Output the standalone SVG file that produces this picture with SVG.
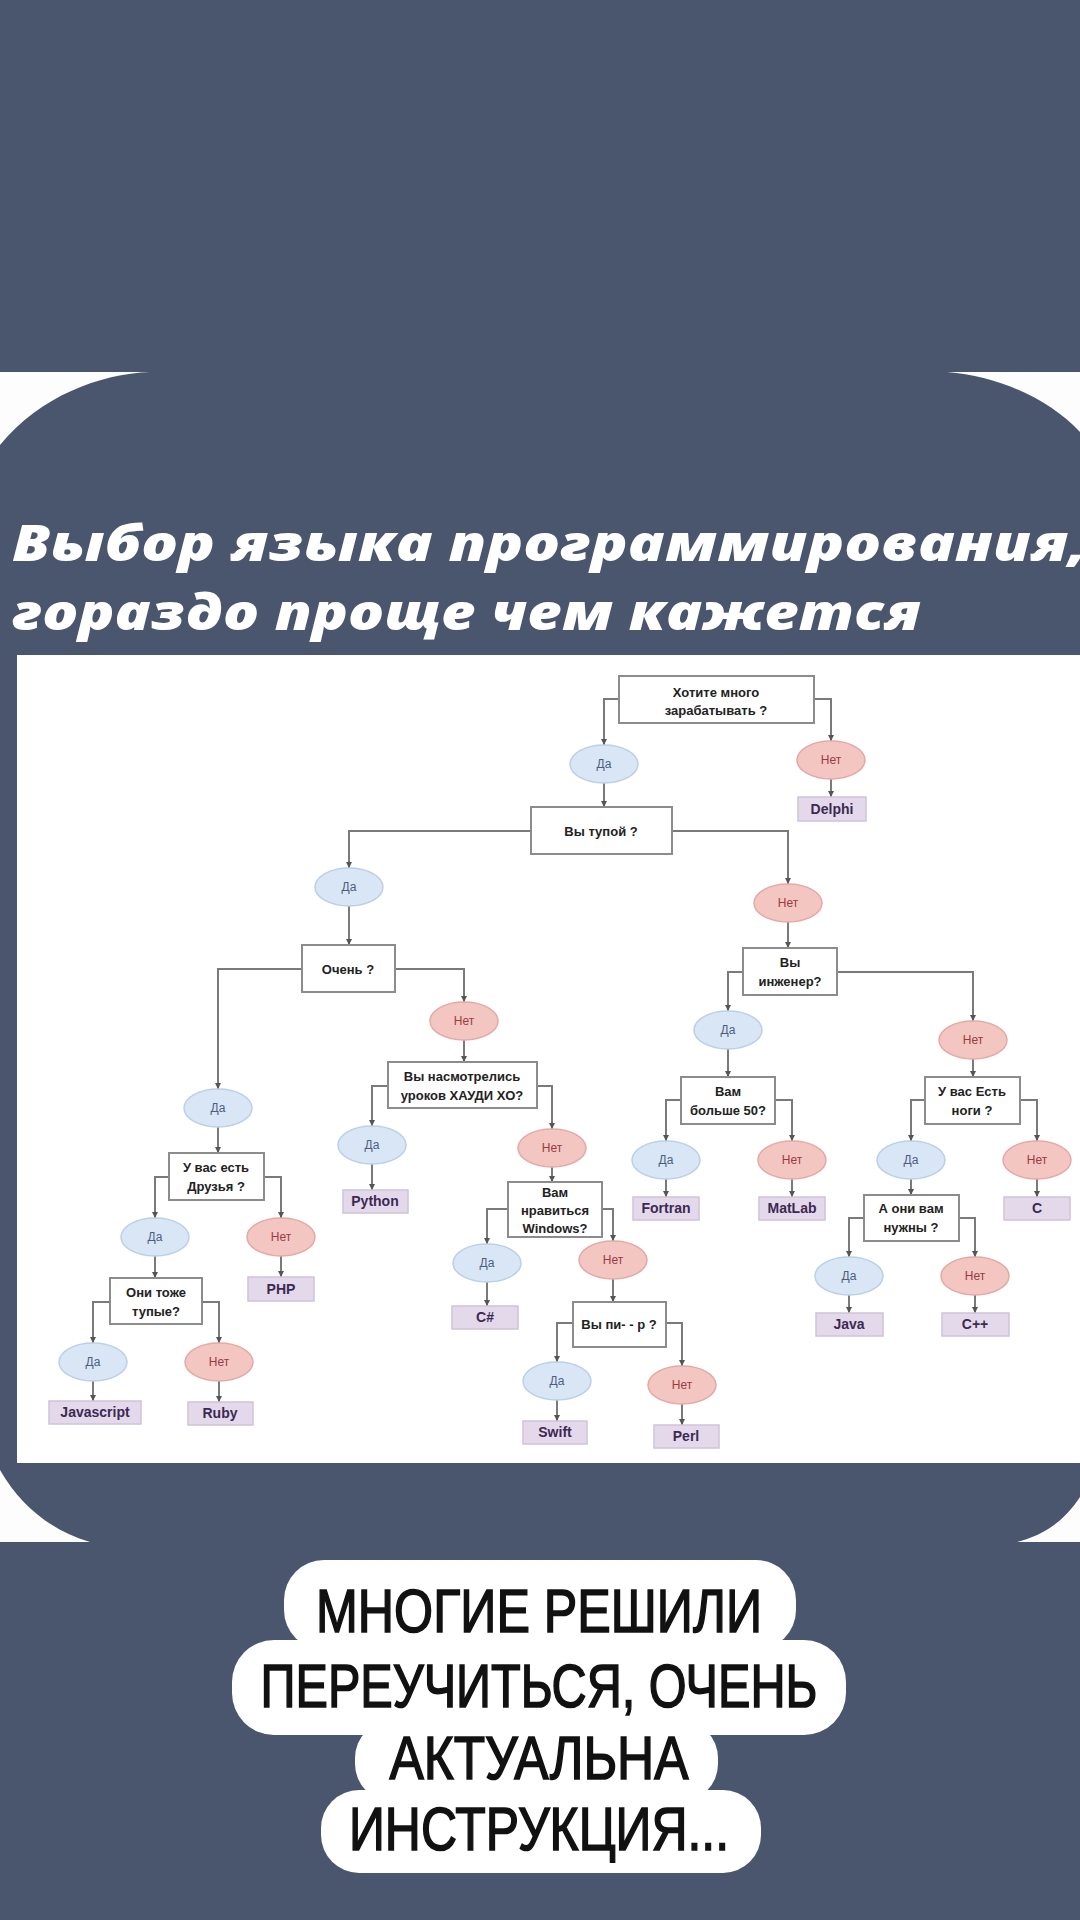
<svg xmlns="http://www.w3.org/2000/svg" width="1080" height="1920" viewBox="0 0 1080 1920">
<defs>
<marker id="ah" viewBox="0 0 6 6" refX="6" refY="3" markerWidth="6" markerHeight="6" markerUnits="userSpaceOnUse" orient="auto"><path d="M0,0 L6,3 L0,6 z" fill="#555"/></marker>
<style>
.q{fill:#fff;stroke:#8c8c8c;stroke-width:2}
.qt{font-family:"Liberation Sans",Arial,sans-serif;font-size:13px;font-weight:bold;fill:#222;text-anchor:middle}
.y{fill:#d9e6f5;stroke:#bccfe6;stroke-width:1.5}
.yt{font-family:"Liberation Sans",Arial,sans-serif;font-size:12px;fill:#4d5d80;text-anchor:middle}
.n{fill:#f3c6c2;stroke:#e3a9a5;stroke-width:1.5}
.nt{font-family:"Liberation Sans",Arial,sans-serif;font-size:12px;fill:#9c3a44;text-anchor:middle}
.l{fill:#e4d9ea;stroke:#cfc3d8;stroke-width:1.5}
.lt{font-family:"Liberation Sans",Arial,sans-serif;font-size:14px;font-weight:bold;fill:#3b2954;text-anchor:middle}
.c{fill:none;stroke:#7a7a7a;stroke-width:2;marker-end:url(#ah)}
.title{font-family:"Open Sans","Noto Sans",sans-serif;font-size:50px;font-weight:800;font-style:italic;fill:#fff}
.cap{font-family:"Liberation Sans",Arial,sans-serif;font-size:62px;fill:#111;stroke:#111;stroke-width:1.6;text-anchor:middle}
</style>
</defs>
<rect width="1080" height="1920" fill="#4a556e"/>
<g id="panel-corners" fill="#fdfdfd">
<path d="M0,372 H150 C100,374 40,396 0,445 Z"/>
<path d="M1080,372 H947 C1000,376 1050,400 1080,432 Z"/>
<path d="M0,1542 H90 C50,1530 20,1505 0,1470 Z"/>
<path d="M1080,1542 H1017 C1045,1535 1065,1520 1080,1497 Z"/>
</g>
<g id="title">
<text class="title" x="12" y="561" textLength="1075" lengthAdjust="spacingAndGlyphs">Выбор языка программирования,</text>
<text class="title" x="12" y="630" textLength="909" lengthAdjust="spacingAndGlyphs">гораздо проще чем кажется</text>
</g>
<rect id="chart-bg" x="17" y="655" width="1063" height="808" fill="#fff"/>
<g id="connectors">
<path class="c" d="M619,699 H604 V745"/>
<path class="c" d="M814,699 H831 V741"/>
<path class="c" d="M604,783 V807"/>
<path class="c" d="M831,779 V797"/>
<path class="c" d="M531,831 H349 V868"/>
<path class="c" d="M672,831 H788 V884"/>
<path class="c" d="M349,906 V945"/>
<path class="c" d="M788,922 V948"/>
<path class="c" d="M302,969 H218 V1089"/>
<path class="c" d="M395,969 H464 V1002"/>
<path class="c" d="M743,972 H728 V1011"/>
<path class="c" d="M837,972 H973 V1021"/>
<path class="c" d="M464,1040 V1062"/>
<path class="c" d="M218,1127 V1153"/>
<path class="c" d="M728,1049 V1077"/>
<path class="c" d="M973,1059 V1077"/>
<path class="c" d="M388,1086 H372 V1126"/>
<path class="c" d="M537,1086 H552 V1129"/>
<path class="c" d="M372,1164 V1190"/>
<path class="c" d="M552,1167 V1182"/>
<path class="c" d="M508,1209 H487 V1244"/>
<path class="c" d="M602,1209 H613 V1241"/>
<path class="c" d="M487,1282 V1306"/>
<path class="c" d="M613,1279 V1302"/>
<path class="c" d="M573,1323 H557 V1362"/>
<path class="c" d="M666,1323 H682 V1366"/>
<path class="c" d="M557,1400 V1421"/>
<path class="c" d="M682,1404 V1425"/>
<path class="c" d="M681,1100 H666 V1141"/>
<path class="c" d="M775,1100 H792 V1141"/>
<path class="c" d="M666,1179 V1197"/>
<path class="c" d="M792,1179 V1197"/>
<path class="c" d="M925,1100 H911 V1141"/>
<path class="c" d="M1020,1100 H1037 V1141"/>
<path class="c" d="M911,1179 V1195"/>
<path class="c" d="M1037,1179 V1197"/>
<path class="c" d="M864,1218 H849 V1257"/>
<path class="c" d="M959,1218 H975 V1257"/>
<path class="c" d="M849,1295 V1313"/>
<path class="c" d="M975,1295 V1313"/>
<path class="c" d="M169,1177 H155 V1218"/>
<path class="c" d="M264,1177 H281 V1218"/>
<path class="c" d="M155,1256 V1278"/>
<path class="c" d="M281,1256 V1277"/>
<path class="c" d="M110,1302 H93 V1343"/>
<path class="c" d="M202,1302 H219 V1343"/>
<path class="c" d="M93,1381 V1401"/>
<path class="c" d="M219,1381 V1402"/>
</g>
<g id="q1"><rect class="q" x="619" y="676" width="195" height="47"/><text class="qt" x="716" y="697">Хотите много</text><text class="qt" x="716" y="715">зарабатывать ?</text></g>
<g id="y1"><ellipse class="y" cx="604" cy="764" rx="34" ry="19"/><text class="yt" x="604" y="768">Да</text></g>
<g id="n1"><ellipse class="n" cx="831" cy="760" rx="34" ry="19"/><text class="nt" x="831" y="764">Нет</text></g>
<g id="delphi"><rect class="l" x="798" y="797" width="68" height="24"/><text class="lt" x="832" y="814">Delphi</text></g>
<g id="q2"><rect class="q" x="531" y="807" width="141" height="47"/><text class="qt" x="601" y="836">Вы тупой ?</text></g>
<g id="y2"><ellipse class="y" cx="349" cy="887" rx="34" ry="19"/><text class="yt" x="349" y="891">Да</text></g>
<g id="n2"><ellipse class="n" cx="788" cy="903" rx="34" ry="19"/><text class="nt" x="788" y="907">Нет</text></g>
<g id="q3"><rect class="q" x="302" y="945" width="93" height="47"/><text class="qt" x="348" y="974">Очень ?</text></g>
<g id="q4"><rect class="q" x="743" y="948" width="94" height="47"/><text class="qt" x="790" y="967">Вы</text><text class="qt" x="790" y="986">инженер?</text></g>
<g id="y3"><ellipse class="y" cx="728" cy="1030" rx="34" ry="19"/><text class="yt" x="728" y="1034">Да</text></g>
<g id="n3"><ellipse class="n" cx="973" cy="1040" rx="34" ry="19"/><text class="nt" x="973" y="1044">Нет</text></g>
<g id="n4"><ellipse class="n" cx="464" cy="1021" rx="34" ry="19"/><text class="nt" x="464" y="1025">Нет</text></g>
<g id="y4"><ellipse class="y" cx="218" cy="1108" rx="34" ry="19"/><text class="yt" x="218" y="1112">Да</text></g>
<g id="q5"><rect class="q" x="388" y="1062" width="149" height="46"/><text class="qt" x="462" y="1081">Вы насмотрелись</text><text class="qt" x="462" y="1100">уроков ХАУДИ ХО?</text></g>
<g id="y5"><ellipse class="y" cx="372" cy="1145" rx="34" ry="19"/><text class="yt" x="372" y="1149">Да</text></g>
<g id="python"><rect class="l" x="343" y="1190" width="65" height="23"/><text class="lt" x="375" y="1206">Python</text></g>
<g id="n5"><ellipse class="n" cx="552" cy="1148" rx="34" ry="19"/><text class="nt" x="552" y="1152">Нет</text></g>
<g id="q6"><rect class="q" x="508" y="1182" width="94" height="55"/><text class="qt" x="555" y="1197">Вам</text><text class="qt" x="555" y="1215">нравиться</text><text class="qt" x="555" y="1233">Windows?</text></g>
<g id="y6"><ellipse class="y" cx="487" cy="1263" rx="34" ry="19"/><text class="yt" x="487" y="1267">Да</text></g>
<g id="csharp"><rect class="l" x="452" y="1306" width="66" height="23"/><text class="lt" x="485" y="1322">C#</text></g>
<g id="n6"><ellipse class="n" cx="613" cy="1260" rx="34" ry="19"/><text class="nt" x="613" y="1264">Нет</text></g>
<g id="q7"><rect class="q" x="573" y="1302" width="93" height="45"/><text class="qt" x="619" y="1329">Вы пи- - р ?</text></g>
<g id="y7"><ellipse class="y" cx="557" cy="1381" rx="34" ry="19"/><text class="yt" x="557" y="1385">Да</text></g>
<g id="n7"><ellipse class="n" cx="682" cy="1385" rx="34" ry="19"/><text class="nt" x="682" y="1389">Нет</text></g>
<g id="swift"><rect class="l" x="523" y="1421" width="64" height="23"/><text class="lt" x="555" y="1437">Swift</text></g>
<g id="perl"><rect class="l" x="654" y="1425" width="65" height="23"/><text class="lt" x="686" y="1441">Perl</text></g>
<g id="q8"><rect class="q" x="681" y="1077" width="94" height="47"/><text class="qt" x="728" y="1096">Вам</text><text class="qt" x="728" y="1115">больше 50?</text></g>
<g id="y8"><ellipse class="y" cx="666" cy="1160" rx="34" ry="19"/><text class="yt" x="666" y="1164">Да</text></g>
<g id="n8"><ellipse class="n" cx="792" cy="1160" rx="34" ry="19"/><text class="nt" x="792" y="1164">Нет</text></g>
<g id="fortran"><rect class="l" x="633" y="1197" width="66" height="23"/><text class="lt" x="666" y="1213">Fortran</text></g>
<g id="matlab"><rect class="l" x="759" y="1197" width="66" height="23"/><text class="lt" x="792" y="1213">MatLab</text></g>
<g id="q9"><rect class="q" x="925" y="1077" width="95" height="47"/><text class="qt" x="972" y="1096">У вас Есть</text><text class="qt" x="972" y="1115">ноги ?</text></g>
<g id="y9"><ellipse class="y" cx="911" cy="1160" rx="34" ry="19"/><text class="yt" x="911" y="1164">Да</text></g>
<g id="n9"><ellipse class="n" cx="1037" cy="1160" rx="34" ry="19"/><text class="nt" x="1037" y="1164">Нет</text></g>
<g id="c"><rect class="l" x="1004" y="1197" width="66" height="23"/><text class="lt" x="1037" y="1213">C</text></g>
<g id="q10"><rect class="q" x="864" y="1195" width="95" height="46"/><text class="qt" x="911" y="1213">А они вам</text><text class="qt" x="911" y="1232">нужны ?</text></g>
<g id="y10"><ellipse class="y" cx="849" cy="1276" rx="34" ry="19"/><text class="yt" x="849" y="1280">Да</text></g>
<g id="n10"><ellipse class="n" cx="975" cy="1276" rx="34" ry="19"/><text class="nt" x="975" y="1280">Нет</text></g>
<g id="java"><rect class="l" x="816" y="1313" width="67" height="23"/><text class="lt" x="849" y="1329">Java</text></g>
<g id="cpp"><rect class="l" x="942" y="1313" width="67" height="23"/><text class="lt" x="975" y="1329">C++</text></g>
<g id="q11"><rect class="q" x="169" y="1153" width="95" height="47"/><text class="qt" x="216" y="1172">У вас есть</text><text class="qt" x="216" y="1191">Друзья ?</text></g>
<g id="y11"><ellipse class="y" cx="155" cy="1237" rx="34" ry="19"/><text class="yt" x="155" y="1241">Да</text></g>
<g id="n11"><ellipse class="n" cx="281" cy="1237" rx="34" ry="19"/><text class="nt" x="281" y="1241">Нет</text></g>
<g id="php"><rect class="l" x="248" y="1277" width="66" height="24"/><text class="lt" x="281" y="1294">PHP</text></g>
<g id="q12"><rect class="q" x="110" y="1278" width="92" height="46"/><text class="qt" x="156" y="1297">Они тоже</text><text class="qt" x="156" y="1316">тупые?</text></g>
<g id="y12"><ellipse class="y" cx="93" cy="1362" rx="34" ry="19"/><text class="yt" x="93" y="1366">Да</text></g>
<g id="n12"><ellipse class="n" cx="219" cy="1362" rx="34" ry="19"/><text class="nt" x="219" y="1366">Нет</text></g>
<g id="javascript"><rect class="l" x="49" y="1401" width="92" height="23"/><text class="lt" x="95" y="1417">Javascript</text></g>
<g id="ruby"><rect class="l" x="188" y="1402" width="65" height="23"/><text class="lt" x="220" y="1418">Ruby</text></g>
<g id="caption">
<g fill="#fff">
<rect x="284" y="1560" width="512" height="90" rx="40"/>
<rect x="232" y="1640" width="614" height="95" rx="42"/>
<rect x="355" y="1720" width="363" height="82" rx="38"/>
<rect x="321" y="1790" width="440" height="83" rx="38"/>
</g>
<text class="cap" x="539" y="1632" textLength="446" lengthAdjust="spacingAndGlyphs">МНОГИЕ РЕШИЛИ</text>
<text class="cap" x="539" y="1707" textLength="557" lengthAdjust="spacingAndGlyphs">ПЕРЕУЧИТЬСЯ, ОЧЕНЬ</text>
<text class="cap" x="539" y="1779" textLength="299" lengthAdjust="spacingAndGlyphs">АКТУАЛЬНА</text>
<text class="cap" x="539" y="1850" textLength="380" lengthAdjust="spacingAndGlyphs">ИНСТРУКЦИЯ...</text>
</g>
</svg>
